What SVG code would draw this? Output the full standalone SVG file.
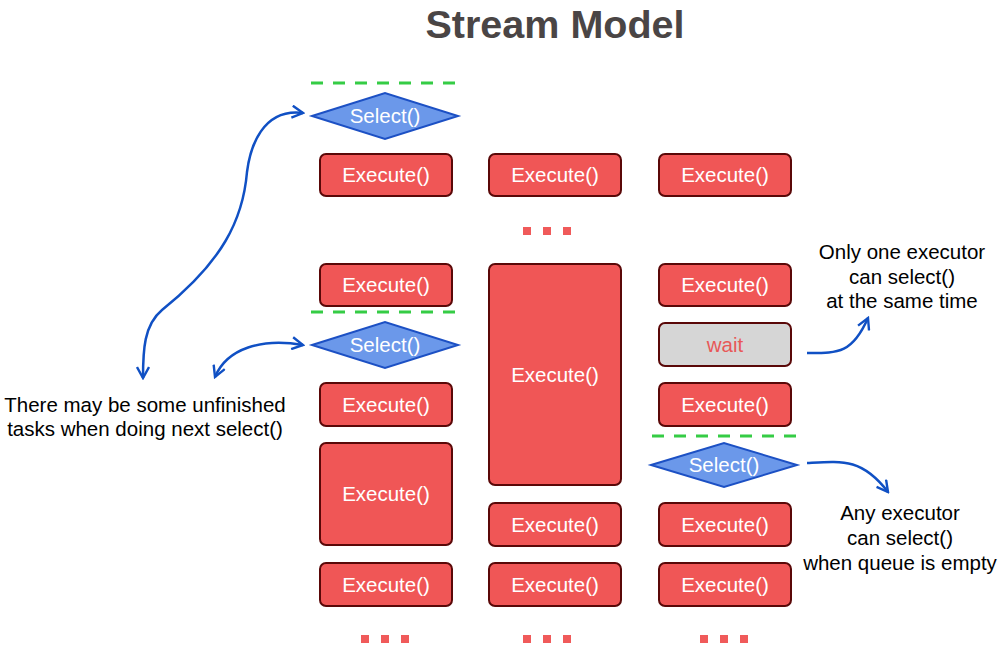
<svg xmlns="http://www.w3.org/2000/svg" width="1000" height="659" viewBox="0 0 1000 659">
<defs>
<style>
.box{fill:#f05656;stroke:#5a0808;stroke-width:2}
.wait{fill:#d6d6d6;stroke:#5a0808;stroke-width:2}
.dia{fill:#6b98ea;stroke:#1c50c4;stroke-width:2}
.bt{font-family:"Liberation Sans",Arial,sans-serif;font-size:20.5px;fill:#ffffff;text-anchor:middle}
.wt{font-family:"Liberation Sans",Arial,sans-serif;font-size:20.5px;fill:#e85858;text-anchor:middle}
.note{font-family:"Liberation Sans",Arial,sans-serif;font-size:20.5px;fill:#000;text-anchor:middle}
.dash{stroke:#35cc45;stroke-width:3;stroke-dasharray:12 10;fill:none}
.dot{fill:#f05a5a}
.arr{fill:none;stroke:#1050c4;stroke-width:2.5}
</style>
<marker id="ah" viewBox="0 0 14 14" refX="12" refY="7" markerWidth="14" markerHeight="14" markerUnits="userSpaceOnUse" orient="auto-start-reverse">
<path d="M1,1 L12,7 L1,13" fill="none" stroke="#1050c4" stroke-width="2.4"/>
</marker>
</defs>
<rect width="1000" height="659" fill="#ffffff"/>
<text x="555" y="38" font-family="Liberation Sans,Arial,sans-serif" font-size="39.5" font-weight="bold" fill="#4a4545" text-anchor="middle">Stream Model</text>

<g id="separators">
<line class="dash" x1="311" y1="83" x2="457" y2="83"/>
<line class="dash" x1="311" y1="312" x2="457" y2="312"/>
<line class="dash" x1="652" y1="436" x2="797" y2="436"/>
</g>

<g id="select1"><polygon class="dia" points="312,116 385,93 458,116 385,139"/><text class="bt" x="385" y="123">Select()</text></g>
<g id="select2"><polygon class="dia" points="312,345 385,322 458,345 385,368"/><text class="bt" x="385" y="352">Select()</text></g>
<g id="select3"><polygon class="dia" points="651,465 724,443 797,465 724,487"/><text class="bt" x="724" y="472">Select()</text></g>

<g id="c1r1"><rect class="box" x="320" y="154" width="132" height="42" rx="6"/><text class="bt" x="386" y="182">Execute()</text></g>
<g id="c2r1"><rect class="box" x="489" y="154" width="132" height="42" rx="6"/><text class="bt" x="555" y="182">Execute()</text></g>
<g id="c3r1"><rect class="box" x="659" y="154" width="132" height="42" rx="6"/><text class="bt" x="725" y="182">Execute()</text></g>

<g id="ellipsis-mid"><rect class="dot" x="523" y="227" width="8" height="8"/><rect class="dot" x="543" y="227" width="8" height="8"/><rect class="dot" x="563" y="227" width="8" height="8"/></g>

<g id="c1r2"><rect class="box" x="320" y="264" width="132" height="42" rx="6"/><text class="bt" x="386" y="292">Execute()</text></g>
<g id="c2tall"><rect class="box" x="489" y="264" width="132" height="221" rx="6"/><text class="bt" x="555" y="382">Execute()</text></g>
<g id="c3r2"><rect class="box" x="659" y="264" width="132" height="42" rx="6"/><text class="bt" x="725" y="292">Execute()</text></g>
<g id="c3wait"><rect class="wait" x="659" y="323" width="132" height="43" rx="6"/><text class="wt" x="725" y="352">wait</text></g>
<g id="c1r3"><rect class="box" x="320" y="383" width="132" height="43" rx="6"/><text class="bt" x="386" y="412">Execute()</text></g>
<g id="c3r3"><rect class="box" x="659" y="383" width="132" height="43" rx="6"/><text class="bt" x="725" y="412">Execute()</text></g>
<g id="c1tall"><rect class="box" x="320" y="443" width="132" height="102" rx="6"/><text class="bt" x="386" y="501">Execute()</text></g>
<g id="c2r4"><rect class="box" x="489" y="503" width="132" height="43" rx="6"/><text class="bt" x="555" y="532">Execute()</text></g>
<g id="c3r4"><rect class="box" x="659" y="503" width="132" height="43" rx="6"/><text class="bt" x="725" y="532">Execute()</text></g>
<g id="c1r5"><rect class="box" x="320" y="563" width="132" height="43" rx="6"/><text class="bt" x="386" y="592">Execute()</text></g>
<g id="c2r5"><rect class="box" x="489" y="563" width="132" height="43" rx="6"/><text class="bt" x="555" y="592">Execute()</text></g>
<g id="c3r5"><rect class="box" x="659" y="563" width="132" height="43" rx="6"/><text class="bt" x="725" y="592">Execute()</text></g>

<g id="ellipsis-bottom">
<rect class="dot" x="361" y="635" width="8" height="8"/><rect class="dot" x="381" y="635" width="8" height="8"/><rect class="dot" x="401" y="635" width="8" height="8"/>
<rect class="dot" x="523" y="635" width="8" height="8"/><rect class="dot" x="543" y="635" width="8" height="8"/><rect class="dot" x="563" y="635" width="8" height="8"/>
<rect class="dot" x="700" y="635" width="8" height="8"/><rect class="dot" x="720" y="635" width="8" height="8"/><rect class="dot" x="740" y="635" width="8" height="8"/>
</g>

<g id="note-left"><text class="note" x="145" y="412">There may be some unfinished</text><text class="note" x="145" y="436">tasks when doing next select()</text></g>
<g id="note-right-top"><text class="note" x="902" y="259">Only one executor</text><text class="note" x="902" y="284">can select()</text><text class="note" x="902" y="308">at the same time</text></g>
<g id="note-right-bottom"><text class="note" x="900" y="520">Any executor</text><text class="note" x="900" y="545">can select()</text><text class="note" x="900" y="570">when queue is empty</text></g>

<g id="connectors">
<path class="arr" d="M303,113 C262,108 250,148 247,172 C243,220 222,262 162,310 C144,325 143,350 143,378" marker-start="url(#ah)" marker-end="url(#ah)"/>
<path class="arr" d="M303,345 C262,338 227,348 215,377" marker-start="url(#ah)" marker-end="url(#ah)"/>
<path class="arr" d="M807,353 C838,353 852,354 868,318" marker-end="url(#ah)"/>
<path class="arr" d="M807,463 C842,461 862,458 888,492" marker-end="url(#ah)"/>
</g>
</svg>
